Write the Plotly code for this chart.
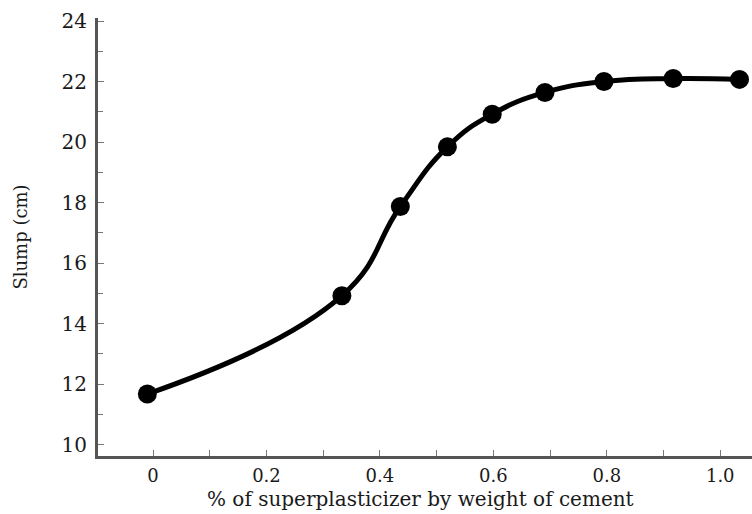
import plotly.graph_objects as go

# data
sp_percent = [-0.01, 0.333, 0.436, 0.519, 0.598, 0.691, 0.795, 0.917, 1.034]
slump_cm = [11.67, 14.92, 17.87, 19.84, 20.92, 21.64, 22.0, 22.1, 22.07]

x_tickvals = [0, 0.2, 0.4, 0.6, 0.8, 1.0]
x_ticktext = ["0", "0.2", "0.4", "0.6", "0.8", "1.0"]
y_tickvals = [10, 12, 14, 16, 18, 20, 22, 24]
y_ticktext = ["10", "12", "14", "16", "18", "20", "22", "24"]
x_title = "% of superplasticizer by weight of cement"
y_title = "Slump (cm)"

fig = go.Figure()
fig.add_trace(go.Scatter(
    x=sp_percent, y=slump_cm,
    mode="lines+markers",
    line=dict(color="black", width=5, shape="spline", smoothing=1.3),
    marker=dict(color="black", size=19),
    showlegend=False,
))

font_serif = "DejaVu Serif, serif"
txt_color = "#1a1a1a"

fig.update_layout(
    width=752, height=514,
    margin=dict(l=98, r=0, t=18, b=58),
    paper_bgcolor="white", plot_bgcolor="white",
    font=dict(family=font_serif, color=txt_color),
)
fig.update_xaxes(
    range=[-0.097, 1.056],
    showgrid=False, zeroline=False,
    showline=True, linecolor="#555", linewidth=3,
    tickvals=x_tickvals, ticktext=x_ticktext,
    ticks="inside", ticklen=6, tickcolor="#777", tickwidth=1,
    minor=dict(ticks="inside", dtick=0.1, tick0=0, ticklen=6, tickcolor="#777", tickwidth=1),
    tickfont=dict(size=18, family=font_serif, color=txt_color),
    ticklabelstandoff=1,
)
fig.update_yaxes(
    range=[9.62, 24.1],
    showgrid=False, zeroline=False,
    showline=True, linecolor="#555", linewidth=3,
    tickvals=y_tickvals, ticktext=y_ticktext,
    ticks="inside", ticklen=6, tickcolor="#777", tickwidth=1,
    minor=dict(ticks="inside", dtick=1, tick0=10, ticklen=5, tickcolor="#777", tickwidth=1),
    tickfont=dict(size=20, family=font_serif, color=txt_color),
    ticklabelstandoff=4,
    title=dict(text=y_title, font=dict(size=18, family=font_serif, color=txt_color),
               standoff=30),
)
fig.add_annotation(
    text=x_title, xref="paper", yref="paper",
    x=0.493, y=-0.128, xanchor="center", yanchor="bottom",
    showarrow=False, borderpad=0,
    font=dict(size=20, family=font_serif, color=txt_color),
)

fig.write_html("out.html")
